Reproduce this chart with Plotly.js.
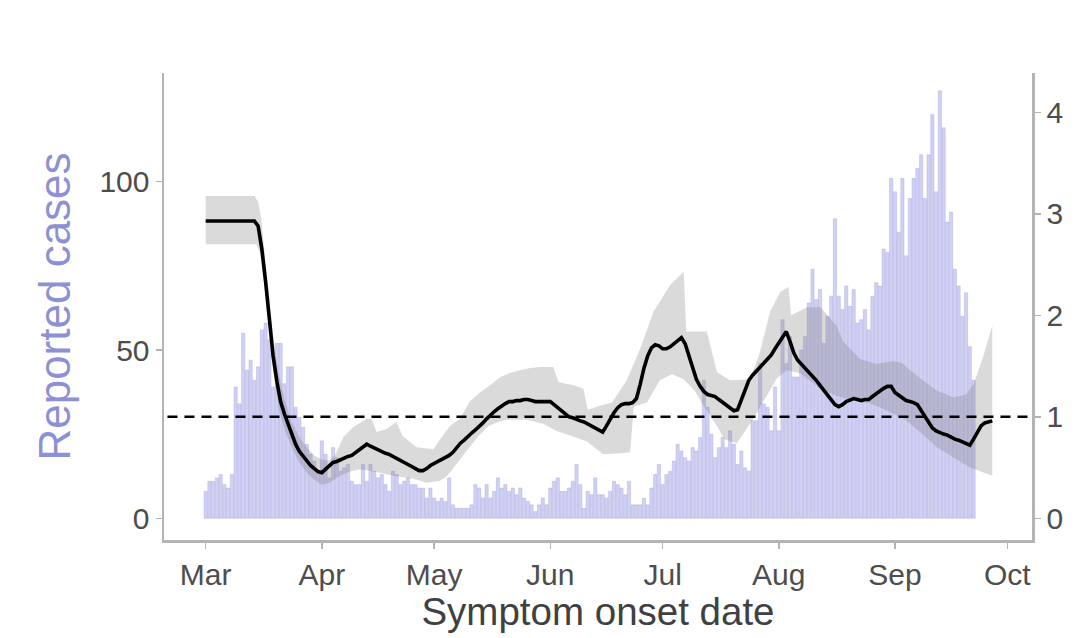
<!DOCTYPE html>
<html>
<head>
<meta charset="utf-8">
<script src="https://cdn.plot.ly/plotly-3.0.1.min.js"></script>
<style>html,body{margin:0;padding:0;background:#fff;}#chart{width:1078px;height:638px;}</style>
</head>
<body>
<div id="chart"></div>
<script>
// Daily reported cases by symptom onset date (one value per day, starting on the 1st of each month)
const casesMar = [8,11,11,12,13,10,9,13,39,34,55,44,47,41,45,56,58,53,39,52,52,40,45,45,33,30,27,22,19,17,14];
const casesApr = [23,19,12,21,18,14,15,16,11,10,10,16,11,16,14,12,13,10,8,14,13,10,11,12,10,10,9,9,6,9];
const casesMay = [6,5,6,5,12,4,3,3,3,3,4,10,9,6,10,6,8,12,9,10,8,9,7,9,6,5,4,2,4,6,4];
const casesJun = [9,11,12,8,8,9,11,16,10,3,8,7,12,7,7,6,8,11,10,9,7,11,4,4,4,6,4,9,13,16];
const casesJul = [10,13,14,17,22,20,18,17,21,20,24,41,33,25,18,21,24,21,26,22,16,20,15,14,29,29,46,34,33,26,39];
const casesAug = [26,59,46,54,42,42,50,54,64,74,65,68,52,60,66,89,66,62,69,63,68,58,59,62,56,66,70,69,80,79,101];
const casesSep = [97,85,101,78,95,101,104,108,95,108,120,97,127,116,88,91,74,69,60,67,51,41];

// Effective reproduction number, daily from 1 March
const rtMean = [2.93,2.93,2.93,2.93,2.93,2.93,2.93,2.93,2.93,2.93,2.93,2.93,2.93,2.93,
  2.88,2.65,2.33,1.95,1.60,1.35,1.15,1.03,0.93,0.82,0.73,0.66,0.61,0.56,0.52,0.49,0.46,0.45,
  0.48,0.52,0.55,0.56,0.58,0.59,0.61,0.62,0.65,0.68,0.71,0.73,0.71,0.69,0.67,0.65,0.64,0.63,
  0.61,0.60,0.58,0.56,0.54,0.51,0.49,0.47,0.47,0.49,0.52,0.54,0.56,0.58,0.60,0.62,0.65,0.70,
  0.74,0.77,0.81,0.84,0.87,0.90,0.94,0.98,1.02,1.05,1.08,1.11,1.13,1.15,1.15,1.16,1.16,1.17,1.17,1.16,
  1.15,1.15,1.15,1.15,1.15,1.12,1.09,1.06,1.03,1.00,0.99,0.97,0.96,0.95,0.93,0.91,0.89,0.87,0.85,0.91,
  0.98,1.04,1.09,1.12,1.13,1.13,1.14,
  1.18,1.32,1.48,1.60,1.68,1.71,1.70,1.67,1.67,1.69,1.72,1.75,1.78,1.72,1.60,1.46,1.37,1.30,1.25,1.22,
  1.21,1.20,1.17,1.14,1.11,1.08,
  1.06,1.07,1.17,1.28,1.36,1.41,1.45,1.48,1.52,1.56,1.61,1.67,1.73,1.79,1.84,1.74,1.63,1.56,1.52,1.49,
  1.45,1.41,1.36,1.31,1.26,1.21,1.16,1.12,1.10,1.12,1.15,1.17,1.18,1.17,1.16,1.17,1.17,1.20,1.23,1.25,
  1.28,1.30,1.30,1.24,1.21,1.18,1.16,1.15,1.14,1.12,1.06,1.00,0.94,0.89,0.86,0.84,0.83,0.82,0.80,0.78,
  0.77,0.75,0.73,0.72,0.78,0.85,0.91,0.94,0.95,0.96];

// Credible interval bounds (day offset from 1 March, value)
const ciUpperDay = [0,13,14,14.8,15.5,16.5,18,19.5,21,23,25,27,29,31,33,34.5,36.8,39.4,43,44.3,45.6,48.3,50.9,52.6,56.3,60.8,62.6,65.2,67.9,70.5,73.2,75.9,78.6,81,83.9,86.6,89.3,92.8,94.2,98.2,100.8,102,105.3,108.5,112.4,116,119.6,124,127.6,128.3,133.8,136.5,140,145.4,148,150.7,153.4,155.6,156.3,160.5,164.1,168.4,170.2,174.7,179.1,183.6,185.8,190.7,195.2,199.6,203,205,207.7,210];
const ciUpper    = [3.175,3.175,3.12,2.96,2.70,2.35,1.80,1.42,1.18,0.95,0.80,0.70,0.62,0.58,0.57,0.62,0.80,0.90,0.98,0.98,0.85,0.88,0.95,0.81,0.70,0.68,0.78,0.91,0.98,1.15,1.24,1.31,1.39,1.43,1.46,1.48,1.49,1.49,1.34,1.31,1.28,1.07,1.11,1.14,1.36,1.67,2.04,2.30,2.43,1.84,1.84,1.44,1.36,1.37,1.64,2.04,2.23,2.28,2.00,2.08,2.08,1.90,1.74,1.57,1.52,1.55,1.53,1.38,1.26,1.19,1.22,1.32,1.61,1.90];
const ciLowerDay = [0,13.5,14.5,15.5,16.5,18,19.5,21,23,25,27,29,31,33,35.9,38.5,41.2,45,50.1,55.4,59,62.6,64.5,67.5,70,72.6,75.5,78,80.4,85.7,90.2,93.7,97.5,101.7,106.1,110.6,113.3,114.3,117.8,121.3,124.5,127.6,130.5,132.9,136.5,138.5,141.8,146.2,152.5,155.2,158.7,164.1,168.1,173,177.5,181.9,186.4,190.7,195.2,199.6,204.1,210];
const ciLower    = [2.70,2.70,2.62,2.35,2.05,1.45,1.08,0.88,0.70,0.55,0.45,0.38,0.33,0.35,0.42,0.46,0.48,0.46,0.42,0.39,0.35,0.37,0.42,0.56,0.68,0.80,0.91,0.95,0.97,0.97,0.93,0.86,0.81,0.76,0.63,0.64,0.65,1.10,1.14,1.36,1.42,1.37,1.26,1.11,0.91,0.78,0.74,0.98,1.38,1.46,1.43,1.28,1.21,1.16,1.13,1.06,0.98,0.85,0.70,0.60,0.50,0.42];

const monthTicks = ['Mar','Apr','May','Jun','Jul','Aug','Sep','Oct'];
const threshold = 1;

// ---- build traces ----
const START = Date.UTC(2020, 2, 1);
const DAY = 86400000;
const toMs = d => START + d * DAY;

const cases = [].concat(casesMar, casesApr, casesMay, casesJun, casesJul, casesAug, casesSep);
const caseX = cases.map((_, i) => toMs(i));
const rtX = rtMean.map((_, i) => toMs(i));

const ribbonX = ciUpperDay.map(toMs).concat(ciLowerDay.slice().reverse().map(toMs));
const ribbonY = ciUpper.concat(ciLower.slice().reverse());

const font = 'Liberation Sans, Arial, Helvetica, sans-serif';
const axisGrey = '#b4b4b4';

const traces = [
  {
    type: 'bar', x: caseX, y: cases, yaxis: 'y', width: 0.86 * DAY,
    marker: {color: '#d1d1f4', line: {color: 'rgba(150,150,215,0.55)', width: 0.6}},
    hoverinfo: 'x+y', showlegend: false
  },
  {
    type: 'scatter', mode: 'lines', x: ribbonX, y: ribbonY, yaxis: 'y2',
    fill: 'toself', fillcolor: 'rgba(120,120,120,0.27)', line: {width: 0},
    hoverinfo: 'skip', showlegend: false
  },
  {
    type: 'scatter', mode: 'lines', x: rtX, y: rtMean, yaxis: 'y2',
    line: {color: '#000', width: 3.6}, showlegend: false
  }
];

const xTickVals = monthTicks.map((_, i) => Date.UTC(2020, 2 + i, 1));

const layout = {
  width: 1078, height: 638,
  margin: {l: 164, r: 46, t: 73, b: 98, pad: 0},
  paper_bgcolor: '#ffffff', plot_bgcolor: '#ffffff',
  showlegend: false,
  bargap: 0,
  xaxis: {
    type: 'date',
    range: [toMs(-11.13), toMs(220.6)],
    tickvals: xTickVals, ticktext: monthTicks,
    showline: true, linecolor: axisGrey, linewidth: 2.5,
    ticks: 'outside', ticklen: 6, tickwidth: 1.5, tickcolor: axisGrey,
    showgrid: false, zeroline: false,
    tickfont: {family: font, size: 30, color: '#4d4d4d'},
    title: {text: 'Symptom onset date', font: {family: font, size: 38.5, color: '#404040'}, standoff: 6}
  },
  yaxis: {
    range: [-6.45, 132.3],
    tickvals: [0, 50, 100],
    showline: true, linecolor: axisGrey, linewidth: 2.5,
    ticks: 'outside', ticklen: 6, tickwidth: 1.5, tickcolor: axisGrey,
    showgrid: false, zeroline: false,
    tickfont: {family: font, size: 30, color: '#4d4d4d'},
    title: {text: 'Reported cases', font: {family: font, size: 44, color: '#8d90d4'}, standoff: 15}
  },
  yaxis2: {
    overlaying: 'y', side: 'right',
    range: [-0.2139, 4.388],
    tickvals: [0, 1, 2, 3, 4],
    showline: true, linecolor: axisGrey, linewidth: 2.5,
    ticks: 'outside', ticklen: 6, tickwidth: 1.5, tickcolor: axisGrey,
    showgrid: false, zeroline: false,
    tickfont: {family: font, size: 30, color: '#4d4d4d'}
  },
  shapes: [{
    type: 'line', xref: 'paper', x0: 0.004, x1: 1, yref: 'y2', y0: threshold, y1: threshold,
    line: {color: '#000', width: 2.6, dash: '10px,7px'}
  }]
};

Plotly.newPlot('chart', traces, layout, {displayModeBar: false, staticPlot: true});
</script>
</body>
</html>
